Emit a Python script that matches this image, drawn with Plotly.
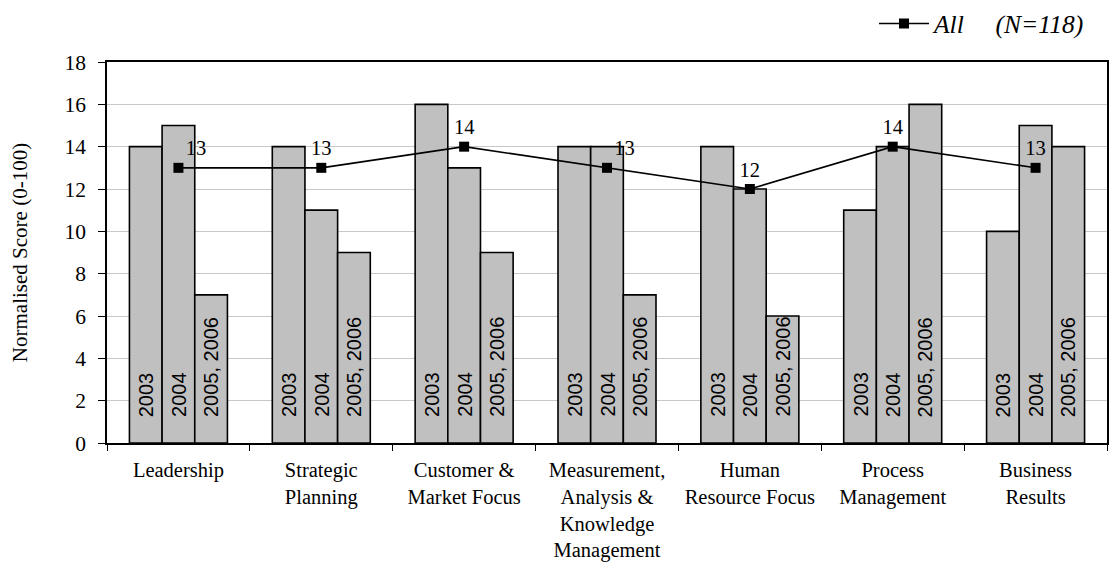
import plotly.graph_objects as go

categories = [
    "Leadership",
    "Strategic<br>Planning",
    "Customer &<br>Market Focus",
    "Measurement,<br>Analysis &<br>Knowledge<br>Management",
    "Human<br>Resource Focus",
    "Process<br>Management",
    "Business<br>Results",
]
year_labels = ["2003", "2004", "2005, 2006"]
scores_2003 = [14, 14, 16, 14, 14, 11, 10]
scores_2004 = [15, 11, 13, 14, 12, 14, 15]
scores_2005_2006 = [7, 9, 9, 7, 6, 16, 14]
scores_all = [13, 13, 14, 13, 12, 14, 13]
all_label_pos = ["top right", "top center", "top center", "top right",
                 "top center", "top center", "top center"]

SERIF = "Liberation Serif, Times New Roman, serif"
SANS = "Liberation Sans, Arial, sans-serif"
BAR_GAP = 0.314

fig = go.Figure()

series = [scores_2003, scores_2004, scores_2005_2006]
for name, vals in zip(year_labels, series):
    fig.add_trace(go.Bar(
        x=categories, y=vals, name=name, showlegend=False,
        marker=dict(color="#C0C0C0", line=dict(color="black", width=1.6)),
        hoverinfo="skip",
    ))

fig.add_trace(go.Scatter(
    x=categories, y=scores_all, name="<i>All\u00a0\u00a0\u00a0\u00a0\u00a0(N=118)</i>",
    mode="lines+markers+text",
    line=dict(color="black", width=1.6),
    marker=dict(symbol="square", size=10, color="black"),
    text=[str(v) for v in scores_all], textposition=all_label_pos,
    textfont=dict(family=SERIF, size=20.5, color="black"),
))

# vertical year labels sitting near the base of each bar
bar_w = (1 - BAR_GAP) / 3
annotations = []
for i in range(len(categories)):
    for j, lab in enumerate(year_labels):
        annotations.append(dict(
            x=i + (j - 1) * bar_w, y=0, xref="x", yref="y",
            text=lab, showarrow=False, textangle=-90,
            xanchor="center", yanchor="bottom", yshift=24,
            font=dict(family=SANS, size=20, color="black"),
        ))

fig.update_layout(
    width=1109, height=568,
    margin=dict(l=107, r=2, t=61, b=125),
    paper_bgcolor="white", plot_bgcolor="white",
    barmode="group", bargap=BAR_GAP, bargroupgap=0,
    font=dict(family=SERIF, size=20, color="black"),
    annotations=annotations,
    legend=dict(
        x=0.984, xanchor="right", y=1.097, yanchor="middle",
        orientation="h", bgcolor="rgba(0,0,0,0)",
        font=dict(family=SERIF, size=25.5, color="black"),
        itemwidth=50,
    ),
    showlegend=True,
)

fig.update_yaxes(
    range=[0, 18], dtick=2, tick0=0,
    showgrid=True, gridcolor="#C8C8C8", gridwidth=1,
    showline=True, linecolor="black", linewidth=1.6, mirror=True,
    ticks="outside", ticklen=7, tickcolor="black", tickwidth=1.2,
    ticklabelstandoff=8,
    tickfont=dict(family=SERIF, size=21.5),
    zeroline=False,
    title=dict(text="Normalised Score (0-100)", font=dict(family=SERIF, size=21), standoff=31),
    automargin=False,
)
fig.update_xaxes(
    showline=True, linecolor="black", linewidth=1.6, mirror=True,
    ticks="outside", ticklen=6, tickcolor="black", tickwidth=1.2,
    tickson="boundaries", ticklabelstandoff=8,
    tickfont=dict(family=SERIF, size=20.5),
    showgrid=False, automargin=False,
)

fig.write_html("out.html")
